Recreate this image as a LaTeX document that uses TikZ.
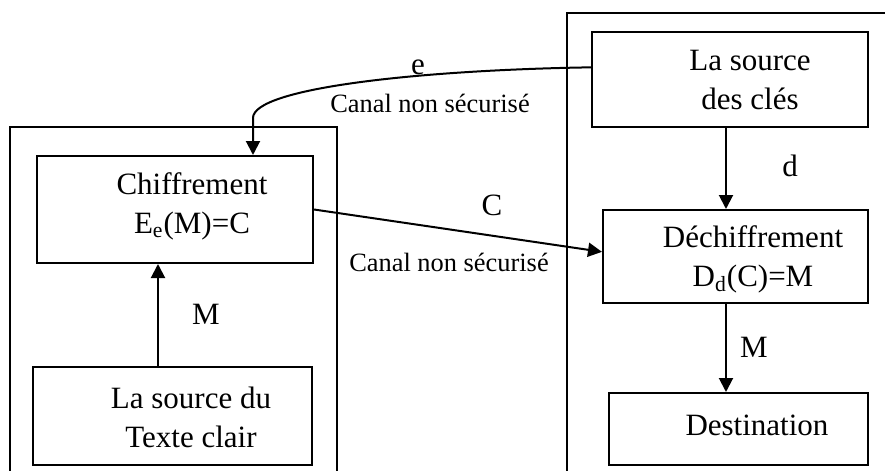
\documentclass[tikz,border=0pt]{standalone}
\usepackage{fontspec}
\setmainfont{Liberation Serif}
\usetikzlibrary{arrows.meta,calc}
\tikzset{
  cbox/.style  ={draw=black,line width=1pt,inner sep=0pt},
  ctxt/.style  ={inner sep=0pt,align=center,font=\fontsize{15.5}{19.5}\selectfont},
  clab/.style  ={inner sep=0pt,font=\fontsize{15.5}{19.5}\selectfont},
  chan/.style  ={inner sep=0pt,font=\fontsize{13.2}{16}\selectfont},
  cline/.style ={line width=1pt},
  carr/.style  ={cline,-{Triangle[length=7pt,width=7pt]}},
}

\begin{document}
\begin{tikzpicture}[x=0.5pt,y=-0.5pt]
  \useasboundingbox (0,0) rectangle (885,471);
  \clip (0,0) rectangle (885,471);
  \draw[cline] (10,480) |- (337,127) -- (337,480);
  \draw[cline] (567,480) |- (890,13);
  \node[cbox,minimum width=138pt,minimum height=53.5pt] (chif) at (175,209.5) {};
  \node[cbox,minimum width=139.5pt,minimum height=49pt] (src) at (172.5,416) {};
  \node[cbox,minimum width=138pt,minimum height=47.5pt] (keys) at (730,79.5) {};
  \node[cbox,minimum width=132.5pt,minimum height=46.5pt] (dech) at (735.5,256.5) {};
  \node[cbox,minimum width=129.5pt,minimum height=36pt] (dest) at (738.5,429) {};
  \node[ctxt] (chiftxt) at (192,206) {Chiffrement\\E\textsubscript{e}(M)=C};
  \node[ctxt] (srctxt) at (191,417) {La source du\\Texte clair};
  \node[ctxt] (keystxt) at (750,80) {La source\\des clés};
  \node[ctxt] (dechtxt) at (753,259) {Déchiffrement\\D\textsubscript{d}(C)=M};
  \node[ctxt] (desttxt) at (757,425) {Destination};
  \draw[carr] (keys.175.65) .. controls (420,70) and (253,88) .. (253,118) -- ($(chif.north)+(78,0)$);
  \draw[carr] (chif.east) -- (dech.178.1);
  \draw[carr] ($(src.north)+(-14.5,0)$) -- ($(chif.south)+(-17,0)$);
  \draw[carr] ($(keys.south)+(-4,0)$) -- ($(dech.north)+(-9.5,0)$);
  \draw[carr] ($(dech.south)+(-9.5,0)$) -- ($(dest.north)+(-12.5,0)$);
  \node[clab] (elbl) at (418,67) {e};
  \node[chan] (chantop) at (430,103) {Canal non sécurisé};
  \node[clab] (clbl) at (492,205) {C};
  \node[chan] (chanbot) at (449,262) {Canal non sécurisé};
  \node[clab] (mleft) at (206,314) {M};
  \node[clab] (dlbl) at (790,166) {d};
  \node[clab] (mright) at (754,347) {M};
\end{tikzpicture}
\end{document}
